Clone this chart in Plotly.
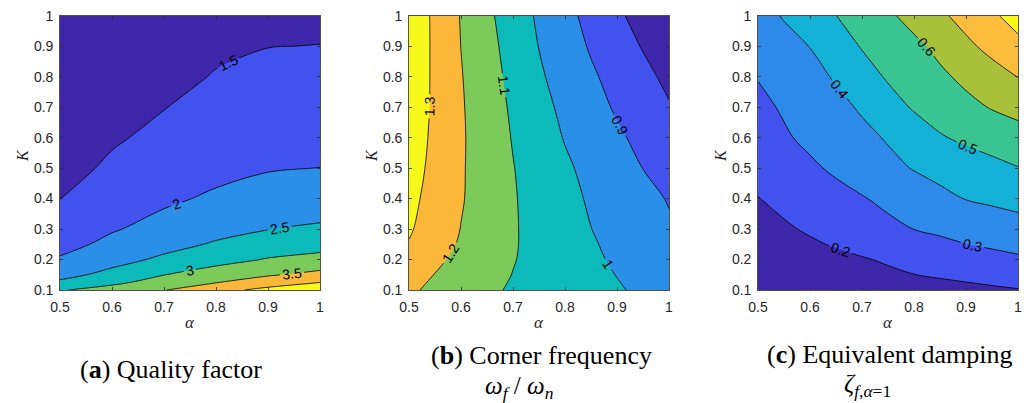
import plotly.graph_objects as go

# ---------------- data ----------------
alpha_a = [0.5, 0.6, 0.7, 0.8, 0.9, 1.0]
K_a = [0.1, 0.125, 0.15, 0.2, 0.25, 0.3, 0.4, 0.5, 0.6, 0.7, 0.8, 0.9, 1.0]
Q_a = [
    [2.96, 3.20, 3.48, 3.83, 4.14, 4.46],
    [2.58, 2.89, 3.20, 3.48, 3.75, 3.99],
    [2.35, 2.64, 2.99, 3.23, 3.45, 3.64],
    [2.05, 2.33, 2.59, 2.83, 3.03, 3.15],
    [1.84, 2.12, 2.34, 2.55, 2.73, 2.82],
    [1.69, 1.96, 2.16, 2.35, 2.49, 2.57],
    [1.495, 1.73, 1.92, 2.07, 2.19, 2.23],
    [1.35, 1.57, 1.74, 1.87, 1.97, 2.005],
    [1.24, 1.45, 1.60, 1.73, 1.81, 1.82],
    [1.15, 1.35, 1.49, 1.61, 1.68, 1.69],
    [1.08, 1.27, 1.40, 1.52, 1.58, 1.58],
    [1.02, 1.20, 1.33, 1.44, 1.495, 1.505],
    [0.965, 1.145, 1.265, 1.37, 1.42, 1.43],
]

alpha_b = [0.5, 0.55, 0.6, 0.65, 0.7, 0.75, 0.8, 0.85, 0.9, 0.95, 1.0]
K_b = [0.1, 0.15, 0.2, 0.25, 0.3, 0.4, 0.5, 0.6, 0.7, 0.8, 0.9, 1.0]
W_b = [
    [1.214, 1.181, 1.149, 1.116, 1.090, 1.069, 1.049, 1.028, 1.008, 0.985, 0.960],
    [1.231, 1.198, 1.165, 1.131, 1.098, 1.073, 1.048, 1.023, 0.998, 0.971, 0.945],
    [1.254, 1.2165, 1.179, 1.142, 1.104, 1.074, 1.045, 1.016, 0.987, 0.960, 0.933],
    [1.295, 1.239, 1.190, 1.149, 1.107, 1.074, 1.041, 1.009, 0.979, 0.949, 0.920],
    [1.310, 1.253, 1.198, 1.153, 1.108, 1.071, 1.036, 1.001, 0.970, 0.940, 0.910],
    [1.325, 1.266, 1.207, 1.156, 1.107, 1.066, 1.027, 0.989, 0.956, 0.923, 0.895],
    [1.340, 1.275, 1.209, 1.155, 1.103, 1.058, 1.014, 0.975, 0.937, 0.899, 0.865],
    [1.350, 1.281, 1.211, 1.152, 1.095, 1.044, 0.995, 0.955, 0.915, 0.875, 0.835],
    [1.360, 1.284, 1.209, 1.146, 1.0865, 1.030, 0.979, 0.934, 0.889, 0.848, 0.807],
    [1.365, 1.284, 1.205, 1.139, 1.075, 1.0125, 0.962, 0.913, 0.869, 0.825, 0.778],
    [1.370, 1.283, 1.199, 1.131, 1.063, 0.998, 0.944, 0.891, 0.843, 0.794, 0.745],
    [1.370, 1.282, 1.195, 1.120, 1.051, 0.986, 0.928, 0.871, 0.816, 0.765, 0.715],
]

alpha_c = [0.5, 0.55, 0.6, 0.65, 0.7, 0.75, 0.8, 0.85, 0.9, 0.95, 1.0]
K_c = [0.1, 0.15, 0.2, 0.25, 0.3, 0.4, 0.5, 0.6, 0.7, 0.8, 0.9, 1.0]
Z_c = [
    [0.095, 0.105, 0.115, 0.125, 0.136, 0.147, 0.158, 0.168, 0.178, 0.187, 0.196],
    [0.115, 0.129, 0.142, 0.157, 0.172, 0.186, 0.199, 0.210, 0.220, 0.231, 0.241],
    [0.135, 0.150, 0.165, 0.179, 0.194, 0.209, 0.225, 0.240, 0.255, 0.271, 0.286],
    [0.153, 0.171, 0.189, 0.207, 0.225, 0.244, 0.263, 0.281, 0.299, 0.313, 0.326],
    [0.168, 0.189, 0.210, 0.233, 0.255, 0.278, 0.301, 0.316, 0.331, 0.347, 0.363],
    [0.198, 0.222, 0.246, 0.270, 0.294, 0.321, 0.349, 0.378, 0.403, 0.417, 0.431],
    [0.225, 0.255, 0.285, 0.315, 0.346, 0.376, 0.405, 0.428, 0.451, 0.474, 0.497],
    [0.252, 0.289, 0.320, 0.348, 0.377, 0.408, 0.450, 0.492, 0.518, 0.540, 0.562],
    [0.278, 0.310, 0.342, 0.375, 0.411, 0.463, 0.509, 0.542, 0.575, 0.606, 0.630],
    [0.304, 0.338, 0.372, 0.409, 0.461, 0.510, 0.546, 0.583, 0.621, 0.661, 0.702],
    [0.327, 0.364, 0.402, 0.455, 0.506, 0.543, 0.579, 0.624, 0.680, 0.728, 0.773],
    [0.357, 0.408, 0.454, 0.499, 0.542, 0.585, 0.632, 0.683, 0.733, 0.784, 0.840],
]

# contour levels (start, end, step)
levels_a = (1.5, 4.0, 0.5)
levels_b = (0.8, 1.3, 0.1)
levels_c = (0.2, 0.8, 0.1)

x_ticks = [0.5, 0.6, 0.7, 0.8, 0.9, 1.0]
x_ticklabels = ["0.5", "0.6", "0.7", "0.8", "0.9", "1"]
y_ticks = [0.1, 0.2, 0.3, 0.4, 0.5, 0.6, 0.7, 0.8, 0.9, 1.0]
y_ticklabels = ["0.1", "0.2", "0.3", "0.4", "0.5", "0.6", "0.7", "0.8", "0.9", "1"]

# band colours (parula-like)
colors_7 = ["#3E26A8", "#4352EF", "#2A8FE6", "#0DBABA", "#7BCA5A", "#FBB73A", "#F7F91A"]
colors_8 = ["#3E26A8", "#4352EF", "#2D8AE9", "#12B1D5", "#38C592", "#A9C03B", "#FDBD3C", "#F8F914"]

captions = ["(<b>a</b>) Quality factor",
            "(<b>b</b>) Corner frequency",
            "(<b>c</b>) Equivalent damping"]
subcaptions = ["",
               "<i>ω</i><sub><i>f</i></sub> / <i>ω</i><sub><i>n</i></sub>",
               "<i>ζ</i><sub><i>f</i>,<i>α</i>=1</sub>"]

# ---------------- figure ----------------
W, H = 1032, 403
panel_px = [(60, 320), (409, 669), (758, 1018)]
top_px, bot_px = 15.7, 290.0

def stepscale(cols):
    n = len(cols) - 1
    return [[i / n, c] for i, c in enumerate(cols)]

fig = go.Figure()
data_sets = [
    (alpha_a, K_a, Q_a, levels_a, colors_7),
    (alpha_b, K_b, W_b, levels_b, colors_7),
    (alpha_c, K_c, Z_c, levels_c, colors_8),
]
for i, (xa, ya, za, lev, cols) in enumerate(data_sets):
    sfx = "" if i == 0 else str(i + 1)
    fig.add_trace(go.Contour(
        x=xa, y=ya, z=za,
        xaxis="x" + sfx, yaxis="y" + sfx,
        autocontour=False,
        contours=dict(start=lev[0], end=lev[1], size=lev[2], coloring="fill",
                      showlabels=True,
                      labelfont=dict(family="Liberation Sans", size=14, color="black")),
        colorscale=stepscale(cols),
        showscale=False,
        line=dict(color="black", width=0.8, smoothing=1.0),
        hoverinfo="skip",
    ))

axis_common = dict(showgrid=False, zeroline=False, showline=True, mirror="ticks",
                   linecolor="#262626", linewidth=0.8, ticks="inside", ticklen=3,
                   tickcolor="#262626", tickwidth=0.8, automargin=False,
                   tickfont=dict(family="Liberation Sans", size=14, color="#262626"))

layout = dict(width=W, height=H, margin=dict(l=0, r=0, t=0, b=0, pad=0),
              paper_bgcolor="white", plot_bgcolor="white", showlegend=False)
ydom = [1 - bot_px / H, 1 - top_px / H]
annotations = []
for i, (l, r) in enumerate(panel_px):
    sfx = "" if i == 0 else str(i + 1)
    layout["xaxis" + sfx] = dict(domain=[l / W, r / W], range=[0.5, 1.0],
                                 tickvals=x_ticks, ticktext=x_ticklabels,
                                 anchor="y" + sfx, ticklabelstandoff=4, **axis_common)
    layout["yaxis" + sfx] = dict(domain=ydom, range=[0.1, 1.0],
                                 tickvals=y_ticks, ticktext=y_ticklabels,
                                 anchor="x" + sfx, ticklabelstandoff=3, **axis_common)
    cx = (l + r) / 2
    annotations.append(dict(text="<i>α</i>", x=cx / W, y=1 - 322 / H, xref="paper", yref="paper",
                            showarrow=False, xanchor="center", yanchor="middle",
                            font=dict(family="Liberation Serif", size=17, color="#262626")))
    annotations.append(dict(text="<i>K</i>", x=(l - 38) / W, y=1 - 156 / H, xref="paper", yref="paper",
                            showarrow=False, xanchor="center", yanchor="middle", textangle=-90,
                            font=dict(family="Liberation Serif", size=16, color="#262626")))

cap_pos = [(170.5, 369), (541.7, 355), (890, 354)]
sub_pos = [(0, 0), (519, 387), (867.5, 385)]
for i in range(3):
    annotations.append(dict(text=captions[i], x=cap_pos[i][0] / W, y=1 - cap_pos[i][1] / H,
                            xref="paper", yref="paper", showarrow=False,
                            xanchor="center", yanchor="middle",
                            font=dict(family="Liberation Serif", size=26, color="black")))
    if subcaptions[i]:
        annotations.append(dict(text=subcaptions[i], x=sub_pos[i][0] / W, y=1 - sub_pos[i][1] / H,
                                xref="paper", yref="paper", showarrow=False,
                                xanchor="center", yanchor="middle",
                                font=dict(family="Liberation Serif", size=25, color="black")))
layout["annotations"] = annotations
fig.update_layout(**layout)
fig.write_html("out.html", config={"displayModeBar": False, "staticPlot": True},
               post_script="document.body.style.margin='0';document.body.style.overflow='hidden';")
